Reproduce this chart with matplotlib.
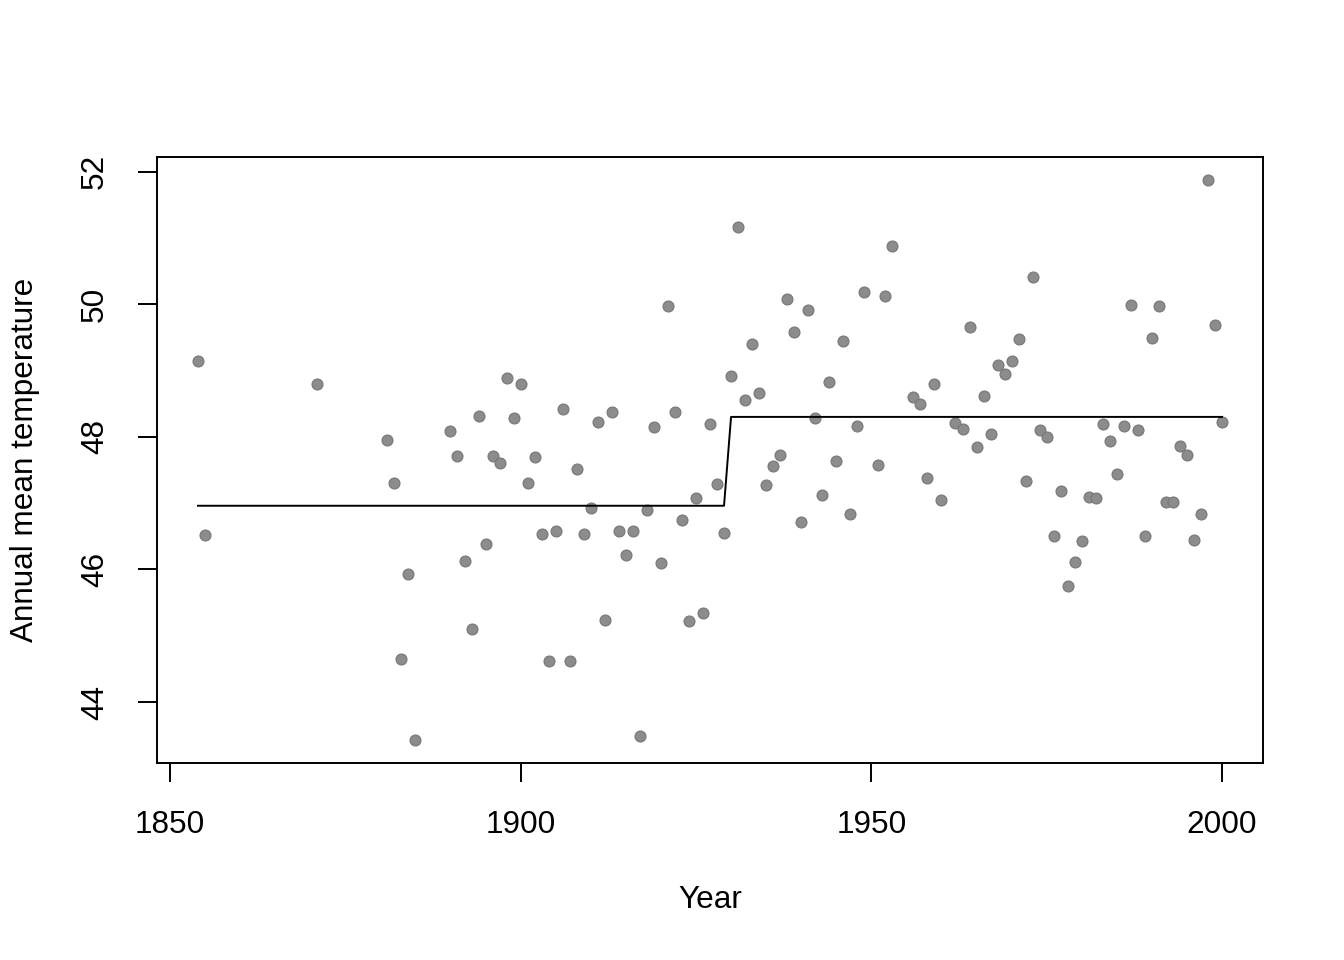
import numpy as np
import matplotlib
matplotlib.use("Agg")
import matplotlib.pyplot as plt

# annual mean temperature
years = [1854, 1855, 1871, 1881, 1882, 1883, 1884, 1885,
         1890, 1891, 1892, 1893, 1894, 1895, 1896, 1897, 1898, 1899,
         1900, 1901, 1902, 1903, 1904, 1905, 1906, 1907, 1908, 1909,
         1910, 1911, 1912, 1913, 1914, 1915, 1916, 1917, 1918, 1919,
         1920, 1921, 1922, 1923, 1924, 1925, 1926, 1927, 1928, 1929,
         1930, 1931, 1932, 1933, 1934, 1935, 1936, 1937, 1938, 1939,
         1940, 1941, 1942, 1943, 1944, 1945, 1946, 1947, 1948, 1949,
         1951, 1952, 1953, 1956, 1957, 1958, 1959, 1960,
         1962, 1963, 1964, 1965, 1966, 1967, 1968, 1969, 1970, 1971,
         1972, 1973, 1974, 1975, 1976, 1977, 1978, 1979, 1980, 1981,
         1982, 1983, 1984, 1985, 1986, 1987, 1988, 1989, 1990, 1991,
         1992, 1993, 1994, 1995, 1996, 1997, 1998, 1999, 2000]
temps = [49.15, 46.52, 48.80, 47.95, 47.31, 44.65, 45.93, 43.42,
         48.09, 47.71, 46.13, 45.10, 48.32, 46.39, 47.71, 47.61, 48.89, 48.29,
         48.79, 47.30, 47.70, 46.54, 44.62, 46.58, 48.42, 44.62, 47.51, 46.53,
         46.93, 48.23, 45.23, 48.37, 46.58, 46.21, 46.58, 43.49, 46.89, 48.15,
         46.10, 49.97, 48.37, 46.74, 45.22, 47.07, 45.34, 48.19, 47.29, 46.55,
         48.92, 51.16, 48.55, 49.40, 48.66, 47.27, 47.56, 47.73, 50.08, 49.58,
         46.71, 49.91, 48.29, 47.12, 48.83, 47.63, 49.45, 46.84, 48.17, 50.19,
         47.58, 50.13, 50.88, 48.60, 48.49, 47.38, 48.79, 47.04,
         48.21, 48.12, 49.66, 47.85, 48.61, 48.04, 49.09, 48.94, 49.14, 49.48,
         47.34, 50.41, 48.10, 47.99, 46.50, 47.18, 45.75, 46.11, 46.43, 47.09,
         47.08, 48.19, 47.94, 47.44, 48.16, 49.99, 48.11, 46.50, 49.49, 49.98,
         47.02, 47.01, 47.86, 47.73, 46.45, 46.84, 51.88, 49.69, 48.22]

# step fit: mean level before and after the change point
change_year = 1929
level_before = 46.96
level_after = 48.30

years = np.array(years)
temps = np.array(temps)
fitted = np.where(years <= change_year, level_before, level_after)

plt.rcParams['font.family'] = ['Liberation Sans', 'DejaVu Sans']
fs = 22.7

fig = plt.figure(figsize=(13.44, 9.6), dpi=100)
ax = fig.add_axes([157/1344, 197/960, 1106/1344, 606/960])

ax.plot(years, temps, 'o', color='#8c8c8c', markeredgecolor='#7a7a7a',
        markersize=7.8, markeredgewidth=0.9, zorder=2)
ax.plot(years, fitted, color='black', lw=1.4, zorder=3)

ax.set_xlim(1848.16, 2005.84)
ax.set_ylim(43.08, 52.22)
ax.set_xticks([1850, 1900, 1950, 2000])
ax.set_yticks([44, 46, 48, 50, 52])

for s in ax.spines.values():
    s.set_linewidth(1.4)
    s.set_color('black')

ax.tick_params(axis='both', length=13.7, width=1.4, pad=20, labelsize=fs,
               direction='out')
ax.tick_params(axis='y', labelrotation=90)
plt.setp(ax.get_yticklabels(), va='center')

ax.set_xlabel('Year', fontsize=fs, va='center')
ax.xaxis.set_label_coords(0.5, (763 - 900) / 606)
ax.set_ylabel('Annual mean temperature', fontsize=fs, va='center')
ax.yaxis.set_label_coords((25 - 157) / 1106, 0.5)

fig.savefig('out.png', dpi=100)
